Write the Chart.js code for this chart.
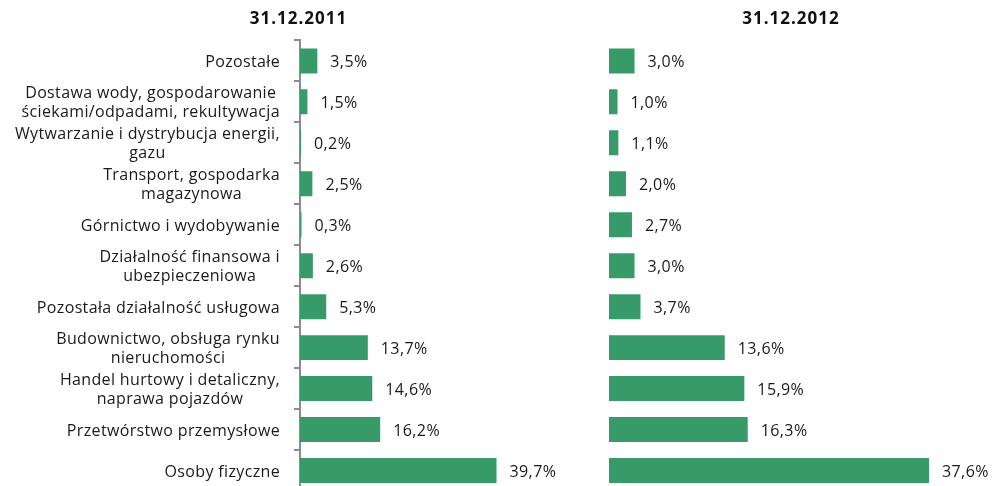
<!DOCTYPE html>
<html>
<head>
<meta charset="utf-8">
<script src="https://cdn.jsdelivr.net/npm/chart.js@4"></script>
<style>
  html, body { margin: 0; padding: 0; background: #fff; overflow: hidden; }
  body { width: 992px; height: 486px; position: relative; }
  #left { position: absolute; left: 0; top: 0; width: 604px; height: 491px; }
  #right { position: absolute; left: 590px; top: 0; width: 402px; height: 491px; }
</style>
</head>
<body>
<div id="left"><canvas id="chart2011"></canvas></div>
<div id="right"><canvas id="chart2012"></canvas></div>
<script>
// Sectors (top to bottom)
const categories = [
    'Pozostałe',
    ['Dostawa wody, gospodarowanie', 'ściekami/odpadami, rekultywacja'],
    ['Wytwarzanie i dystrybucja energii,', 'gazu'],
    ['Transport, gospodarka', 'magazynowa'],
    'Górnictwo i wydobywanie',
    ['Działalność finansowa i', 'ubezpieczeniowa'],
    'Pozostała działalność usługowa',
    ['Budownictwo, obsługa rynku', 'nieruchomości'],
    ['Handel hurtowy i detaliczny,', 'naprawa pojazdów'],
    'Przetwórstwo przemysłowe',
    'Osoby fizyczne'
];

// Share in % at year end
const values2011 = [3.5, 1.5, 0.2, 2.5, 0.3, 2.6, 5.3, 13.7, 14.6, 16.2, 39.7];
const values2012 = [3.0, 1.0, 1.1, 2.0, 2.7, 3.0, 3.7, 13.6, 15.9, 16.3, 37.6];

const titles = ['31.12.2011', '31.12.2012'];

const FONT = "'Open Sans', sans-serif";
const BAR_COLOR = '#369b69';

function fmt(v) {
    return v.toFixed(1).replace('.', ',') + '%';
}

// wider tracking for the title (drawn by chart.js)
const tracking = {
    id: 'tracking',
    beforeDraw(chart) { chart.ctx.letterSpacing = '1px'; },
    afterDraw(chart) { chart.ctx.letterSpacing = '0px'; }
};

// value labels at the end of each bar
const valueLabels = {
    id: 'valueLabels',
    afterDatasetsDraw(chart) {
        const ctx = chart.ctx;
        const meta = chart.getDatasetMeta(0);
        const data = chart.data.datasets[0].data;
        ctx.save();
        ctx.letterSpacing = '0.4px';
        ctx.font = '16px ' + FONT;
        ctx.fillStyle = '#1a1a1a';
        ctx.textAlign = 'left';
        ctx.textBaseline = 'middle';
        meta.data.forEach(function(bar, i) {
            ctx.fillText(fmt(data[i]), bar.x + 13, bar.y + 2);
        });
        ctx.restore();
    }
};

// category labels: block right aligned, lines centred within the block
const categoryLabels = {
    id: 'categoryLabels',
    afterDraw(chart) {
        if (!chart.options.plugins.categoryLabels.show) return;
        const ctx = chart.ctx;
        const y = chart.scales.y;
        const right = y.right - 20;
        const lh = 19;
        ctx.save();
        ctx.letterSpacing = '0.35px';
        ctx.font = '16px ' + FONT;
        ctx.fillStyle = '#1a1a1a';
        ctx.textAlign = 'center';
        ctx.textBaseline = 'middle';
        categories.forEach(function(label, i) {
            const lines = Array.isArray(label) ? label : [label];
            const widest = Math.max.apply(null, lines.map(l => ctx.measureText(l).width));
            const cy = y.getPixelForTick(i) + 1.5;
            const y0 = cy - (lines.length - 1) * lh / 2;
            lines.forEach(function(line, j) {
                ctx.fillText(line, right - widest / 2, y0 + j * lh);
            });
        });
        ctx.restore();
    }
};

function makeChart(id, values, title, opts) {
    return new Chart(document.getElementById(id), {
        type: 'bar',
        data: {
            labels: categories,
            datasets: [{
                data: values,
                backgroundColor: BAR_COLOR,
                borderWidth: 0,
                barPercentage: 0.61,
                categoryPercentage: 1
            }]
        },
        options: {
            indexAxis: 'y',
            responsive: true,
            maintainAspectRatio: false,
            animation: false,
            layout: {
                padding: { left: 0, right: opts.padRight, top: 0, bottom: 0 }
            },
            plugins: {
                legend: { display: false },
                tooltip: { enabled: false },
                title: {
                    display: true,
                    text: title,
                    color: '#111',
                    font: { family: FONT, size: 17, weight: 'bold' },
                    padding: { top: 9, bottom: 11 }
                },
                categoryLabels: { show: opts.showLabels }
            },
            scales: {
                x: {
                    display: false,
                    min: 0,
                    max: opts.max
                },
                y: {
                    afterFit: function(scale) { scale.width = opts.axisWidth; },
                    ticks: { display: false },
                    border: {
                        display: opts.showAxis,
                        color: '#8c8c8c',
                        width: 2
                    },
                    grid: {
                        display: opts.showAxis,
                        offset: true,
                        drawOnChartArea: false,
                        drawTicks: true,
                        tickLength: 6,
                        color: '#8c8c8c',
                        lineWidth: 2
                    }
                }
            }
        },
        plugins: [tracking, valueLabels, categoryLabels]
    });
}

makeChart('chart2011', values2011, titles[0], {
    max: 60, padRight: 7, axisWidth: 300, showAxis: true, showLabels: true
});
makeChart('chart2012', values2012, titles[1], {
    max: 45, padRight: 0, axisWidth: 19, showAxis: false, showLabels: false
});
</script>
</body>
</html>
